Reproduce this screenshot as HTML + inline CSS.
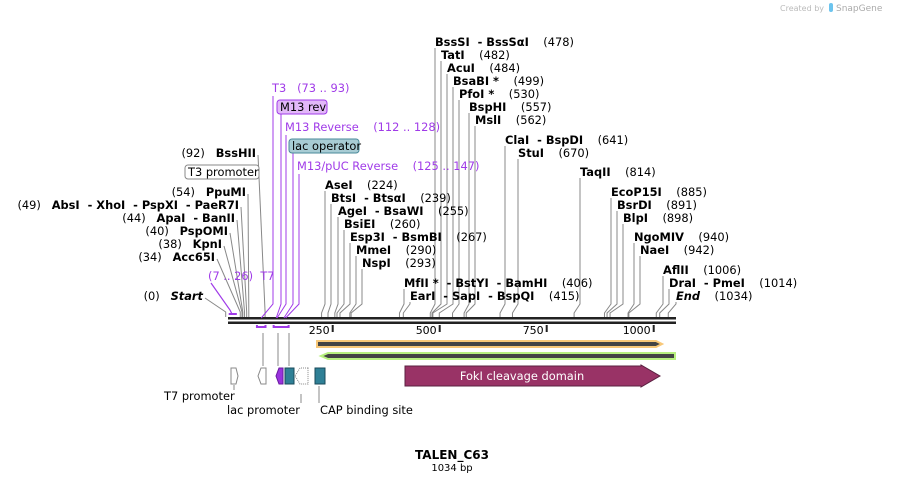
<!DOCTYPE html>
<html><head><meta charset="utf-8"><style>
body{margin:0;background:#fff;width:905px;height:484px;overflow:hidden}
svg{font-family:"DejaVu Sans","Liberation Sans",sans-serif;font-size:11.4px}
text,tspan{white-space:pre}
.b{font-weight:bold}
</style></head><body>
<svg id="map" width="905" height="484" viewBox="0 0 905 484" xmlns="http://www.w3.org/2000/svg">
<text x="780" y="11" font-size="8" fill="#bbb">Created by</text>
<rect x="829" y="3" width="4" height="9" rx="2" fill="#6cc4ee"/>
<text x="836" y="11" font-size="9" fill="#aaa">SnapGene</text>
<g id="g"></g>
<text x="452" y="459" text-anchor="middle" class="b" font-size="12">TALEN_C63</text>
<text x="452" y="471" text-anchor="middle" font-size="10">1034 bp</text>
</svg>
<script>
const seqLen = 1034;
const tickVals = [250, 500, 750, 1000];
const rNames = ["BssSI  - BssSαI","TatI","AcuI","BsaBI *","PfoI *","BspHI","MslI","ClaI  - BspDI","StuI","TaqII","EcoP15I","BsrDI","BlpI","NgoMIV","NaeI","AflII","DraI  - PmeI","End","AseI","BtsI  - BtsαI","AgeI  - BsaWI","BsiEI","Esp3I  - BsmBI","MmeI","NspI","MfII *  - BstYI  - BamHI","EarI  - SapI  - BspQI"];
const rPos = [478,482,484,499,530,557,562,641,670,814,885,891,898,940,942,1006,1014,1034,224,239,255,260,267,290,293,406,415];
const rLx = [435,441,447,453,459,469,475,505,518,580,611,617,623,634,640,663,669,676,325,331,338,344,350,356,362,404,410];
const rLy = [42,55,68,81,94,107,120,140,153,172,192,205,218,237,250,270,283,296,185,198,211,224,237,250,263,283,296];
const lNames = ["BssHII","PpuMI","AbsI  - XhoI  - PspXI  - PaeR7I","ApaI  - BanII","PspOMI","KpnI","Acc65I","Start"];
const lPos = [92,54,49,44,40,38,34,0];
const lLx = [256,246,239,235,228,222,215,203];
const lLy = [153,192,205,218,231,244,257,296];

const x0 = 225.7, pxPerBp = 0.428;
function xs(bp){ return x0 + bp*pxPerBp; }
const g = document.getElementById('g');
const NS = "http://www.w3.org/2000/svg";
function el(tag, attrs, txt){ const e=document.createElementNS(NS,tag); for(const k in attrs) e.setAttribute(k,attrs[k]); if(txt!==undefined) e.textContent=txt; g.appendChild(e); return e; }

let bb = el('rect',{x:228,y:317,width:448,height:2.5,fill:'#222'});


bb = el('rect',{x:228,y:321.5,width:448,height:2.5,fill:'#222'});


tickVals.forEach(v=>{
  const t = el('rect',{x:xs(v)-1,y:325,width:2,height:7,fill:'#222'});
  
  
  const tl = el('text',{x:xs(v)-3,y:334,'text-anchor':'end','font-size':'11'},String(v));
  
  
});

function leader(lx, ly, sx){
  const p = el('polyline',{points:`${lx},${ly} ${lx},${Math.max(ly,304)} ${sx},313 ${sx},317`,fill:'none',stroke:'#888','stroke-width':1});
  
  
}
rNames.forEach((n,i)=>{
  const sx = xs(rPos[i]);
  leader(rLx[i], rLy[i]+6, sx);
  const t = el('text',{x:rLx[i],y:rLy[i]+4});
  const a = document.createElementNS(NS,'tspan'); a.setAttribute('font-weight','bold'); if(n==='End') a.setAttribute('font-style','italic'); a.textContent=n; t.appendChild(a);
  const b = document.createElementNS(NS,'tspan'); b.textContent='    ('+rPos[i]+')'; t.appendChild(b);
  
  
});
lNames.forEach((n,i)=>{
  const sx = xs(lPos[i]);
  const p = el('polyline',{points:`${lLx[i]+2},${lLy[i]+2} ${sx},312 ${sx},317`,fill:'none',stroke:'#888','stroke-width':1});
  
  
  const t = el('text',{x:lLx[i],y:lLy[i]+4,'text-anchor':'end'});
  const b = document.createElementNS(NS,'tspan'); b.textContent='('+lPos[i]+')   '; t.appendChild(b);
  const a = document.createElementNS(NS,'tspan'); a.setAttribute('font-weight','bold'); if(n==='Start') a.setAttribute('font-style','italic'); a.textContent=n; t.appendChild(a);
  
  
});

const P='#a03be8';
function ptext(x,y,s,name){ const t=el('text',{x:x,y:y,fill:P},s);   }
ptext(272,92,'T3   (73 .. 93)','t3-primer-label');
ptext(285,131,'M13 Reverse    (112 .. 128)','m13-reverse-label');
ptext(297,170,'M13/pUC Reverse    (125 .. 147)','m13-puc-reverse-label');
ptext(208,280,'(7 .. 26)  T7','t7-primer-label');
[[273,96,xs(83)],[281,114,xs(118)],[286,135,xs(120)],[293,153,xs(136)],[299,174,xs(140)]].forEach(a=>{
  const l=el('polyline',{points:`${a[0]},${a[1]} ${a[0]},304 ${a[2]},318`,fill:'none',stroke:P,'stroke-width':1});
   
});
let l2=el('polyline',{points:'211,283 230,310 232,314',fill:'none',stroke:P,'stroke-width':1.2});
 
let br=el('rect',{x:xs(7),y:313,width:xs(26)-xs(7),height:2,fill:P});  
br=el('path',{d:`M${xs(73)},325 v2 H${xs(93)} v-2`,stroke:P,'stroke-width':2,fill:'none'});  
br=el('path',{d:`M${xs(112)},325 v2 H${xs(147)} v-2`,stroke:P,'stroke-width':2,fill:'none'});  

let bx=el('rect',{x:277,y:100,width:50,height:14,rx:3,fill:'#e2b8f8',stroke:'#a03be8'});  
let tx=el('text',{x:280,y:111},'M13 rev');  
bx=el('rect',{x:289,y:139,width:70,height:14,rx:3,fill:'#a8ccd4',stroke:'#4a8a9a'});  
tx=el('text',{x:292,y:150},'lac operator');  
bx=el('rect',{x:185,y:165,width:74,height:14,rx:3,fill:'#fff',stroke:'#888'});  
tx=el('text',{x:188,y:176},'T3 promoter');  

let o=el('path',{d:'M317,341 H656 L662,344 L656,347 H317 Z',fill:'#444',stroke:'#f8c878','stroke-width':2});  
o=el('path',{d:'M675,353 H328 L321,356 L328,359 H675 Z',fill:'#444',stroke:'#b8f080','stroke-width':2});  

let f=el('path',{d:'M405,366 H641 V365 L660,376 L641,387 V386 H405 Z',fill:'#993366',stroke:'#5a2040'});  
tx=el('text',{x:522,y:380,fill:'#fff','text-anchor':'middle'},'FokI cleavage domain');  
f=el('path',{d:'M231,368 H236 L238,376 L236,384 H231 Z',fill:'#fff',stroke:'#888'});  
f=el('path',{d:'M266,368 H261 L258,376 L261,384 H266 Z',fill:'#fff',stroke:'#888'});  
f=el('path',{d:'M283,368 H279 L276,376 L279,384 H283 Z',fill:'#9933dd',stroke:'#6a1aa0'});  
f=el('rect',{x:285,y:368,width:9,height:16,fill:'#2f8096',stroke:'#1a4a5a'});  
f=el('path',{d:'M308,368 H300 L295,376 L300,384 H308 Z',fill:'#fff',stroke:'#888','stroke-dasharray':'1,1'});  
f=el('rect',{x:315,y:368,width:10,height:16,fill:'#2f8096',stroke:'#1a4a5a'});  
[[263,333,263,366],[278,333,278,366],[289,333,289,366],[234,385,234,390],[301,394,301,403],[319,386,319,403]].forEach(a=>{
  const ln=el('line',{x1:a[0],y1:a[1],x2:a[2],y2:a[3],stroke:'#888'});  
});
tx=el('text',{x:164,y:400},'T7 promoter');  
tx=el('text',{x:227,y:414},'lac promoter');  
tx=el('text',{x:320,y:414},'CAP binding site');  
</script>
</body></html>
